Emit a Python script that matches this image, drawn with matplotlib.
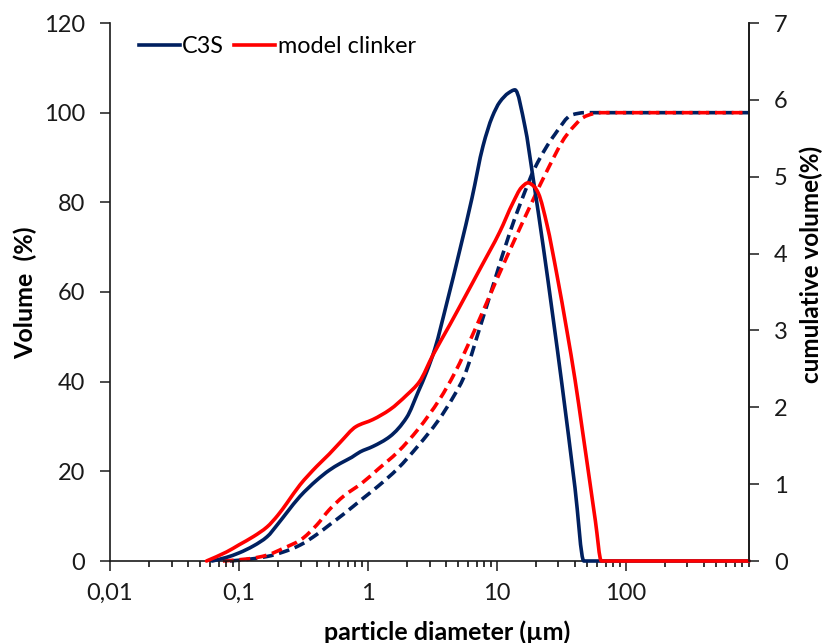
import matplotlib
matplotlib.use("Agg")
import matplotlib.pyplot as plt
import numpy as np
from matplotlib.lines import Line2D
from matplotlib.patches import PathPatch
from matplotlib.path import Path
from matplotlib.ticker import FixedLocator, LogLocator, NullFormatter

plt.rcParams["font.family"] = ["Lato", "DejaVu Sans"]

NAVY = "#002060"
RED = "#ff0000"
INK = "#1a1a1a"

# particle size distribution, density curves (read on the right axis, %)
c3s_x = [0.062, 0.08, 0.1, 0.13, 0.165, 0.2, 0.235, 0.297, 0.4, 0.5, 0.61,
         0.75, 0.87, 1.09, 1.48, 2.0, 2.45, 2.85, 3.3, 4.09, 5.16, 6.4,
         7.8, 9.2, 10.5, 12.3, 13.8, 16.5, 19.0, 22.9, 27.0, 31.9,
         40.3, 47.2, 60, 100, 200, 500, 900]
c3s_vol = [0.0, 0.047, 0.105, 0.198, 0.315, 0.48, 0.63, 0.84, 1.05, 1.18,
           1.27, 1.35, 1.42, 1.49, 1.62, 1.87, 2.20, 2.46, 2.76, 3.36, 4.05,
           4.72, 5.40, 5.78, 5.97, 6.09, 6.13, 5.65, 5.0, 4.08,
           3.21, 2.30, 0.95, 0.0, 0.0, 0.0, 0.0, 0.0, 0.0]

clinker_x = [0.056, 0.08, 0.1, 0.13, 0.165, 0.2, 0.235, 0.297, 0.4, 0.5,
             0.61, 0.81, 1.09, 1.48, 2.0, 2.5, 3.19, 4.3, 5.5, 7.5, 10.5,
             13.3, 15.5, 17.4, 19.5, 21.0, 24.4, 29.2, 35.0, 40.3, 46.0,
             52.6, 58.0, 64.5, 100, 200, 500, 900]
clinker_vol = [0.0, 0.117, 0.21, 0.32, 0.443, 0.595, 0.752, 0.99, 1.23,
               1.39, 1.545, 1.75, 1.84, 1.97, 2.16, 2.33, 2.68, 3.07, 3.40,
               3.82, 4.28, 4.66, 4.86, 4.92, 4.87, 4.78, 4.38, 3.72, 2.98,
               2.36, 1.70, 1.02, 0.52, 0.0, 0.0, 0.0, 0.0, 0.0]

# cumulative curves (read on the left axis, %)
c3s_cum_x = [0.085, 0.12, 0.165, 0.22, 0.3, 0.4, 0.5, 0.65, 0.9, 1.2, 1.7,
             2.45, 3.5, 4.7, 5.5, 7.2, 9.6, 12.5, 15.5, 19.7, 28.2, 38.0,
             48.0, 100, 900]
c3s_cum = [0.0, 0.4, 1.0, 2.0, 3.6, 5.9, 8.0, 10.5, 13.8, 16.7, 20.6, 25.7,
           31.3, 37.1, 40.8, 51.1, 62.6, 73.0, 80.4, 87.7, 95.2, 99.5, 100.0,
           100.0, 100.0]

clinker_cum_x = [0.075, 0.12, 0.165, 0.22, 0.3, 0.4, 0.5, 0.65, 0.9, 1.2,
                 1.7, 2.45, 3.6, 4.7, 6.75, 9.9, 14.5, 18.6, 25.0, 34.7, 49.5,
                 63.0, 100, 900]
clinker_cum = [0.0, 0.5, 1.3, 2.8, 4.7, 8.0, 11.4, 14.5, 17.4, 20.5, 24.3,
               29.4, 36.1, 41.9, 51.6, 62.6, 73.2, 79.9, 87.6, 95.0, 99.3,
               100.0, 100.0, 100.0]

x_ticks = [0.01, 0.1, 1, 10, 100]
x_tick_labels = ["0,01", "0,1", "1", "10", "100"]
left_ticks = [0, 20, 40, 60, 80, 100, 120]
right_ticks = [0, 1, 2, 3, 4, 5, 6, 7]


def smooth_path(x, y):
    """Smoothed line like Excel's: cubic Bezier segments through the points,
    built in log-x space with monotone tangents (no overshoot)."""
    lx = np.log10(np.asarray(x, float))
    y = np.asarray(y, float)
    h = np.diff(lx)
    d = np.diff(y) / h
    m = np.zeros(len(y))
    m[0], m[-1] = d[0], d[-1]
    for i in range(1, len(y) - 1):
        if d[i - 1] * d[i] > 0:
            w1 = 2 * h[i] + h[i - 1]
            w2 = h[i] + 2 * h[i - 1]
            m[i] = (w1 + w2) / (w1 / d[i - 1] + w2 / d[i])
    verts = [(lx[0], y[0])]
    codes = [Path.MOVETO]
    for i in range(len(y) - 1):
        verts += [(lx[i] + h[i] / 3, y[i] + m[i] * h[i] / 3),
                  (lx[i + 1] - h[i] / 3, y[i + 1] - m[i + 1] * h[i] / 3),
                  (lx[i + 1], y[i + 1])]
        codes += [Path.CURVE4] * 3
    verts = np.array(verts)
    verts[:, 0] = 10 ** verts[:, 0]
    return Path(verts, codes)


def draw_curve(a, x, y, color, dashed=False):
    a.add_patch(PathPatch(
        smooth_path(x, y), fill=False, edgecolor=color, lw=LW,
        linestyle=(0, DASH) if dashed else "-",
        capstyle="butt" if dashed else "round", joinstyle="round",
        clip_on=False,
    ))


LW = 2.6
DASH = (3.0, 1.6)

fig = plt.figure(figsize=(8.23, 6.43), dpi=100)
ax = fig.add_axes([110 / 823, 82 / 643, 639 / 823, 538 / 643])
ax2 = ax.twinx()

ax.set_xscale("log")
ax.set_xlim(0.01, 900)
ax.set_ylim(0, 120)
ax2.set_ylim(0, 7)

draw_curve(ax, c3s_cum_x, c3s_cum, NAVY, dashed=True)
draw_curve(ax, clinker_cum_x, clinker_cum, RED, dashed=True)
draw_curve(ax2, c3s_x, c3s_vol, NAVY)
draw_curve(ax2, clinker_x, clinker_vol, RED)

ax.xaxis.set_major_locator(FixedLocator(x_ticks))
ax.set_xticklabels(x_tick_labels)
ax.xaxis.set_minor_locator(LogLocator(base=10, subs=range(2, 10), numticks=20))
ax.xaxis.set_minor_formatter(NullFormatter())
ax.set_yticks(left_ticks)
ax2.set_yticks(right_ticks)

for a in (ax, ax2):
    a.spines["top"].set_visible(False)
    for side in ("left", "right", "bottom"):
        a.spines[side].set_linewidth(1.2)
        a.spines[side].set_color(INK)
ax2.spines["left"].set_visible(False)
ax2.spines["bottom"].set_visible(False)

ax.tick_params(axis="x", which="major", direction="out", length=7, width=1.1,
               pad=9, labelsize=17, colors=INK)
ax.tick_params(axis="x", which="minor", direction="out", length=4, width=1.1)
ax.tick_params(axis="y", direction="out", length=7, width=1.1, pad=11,
               labelsize=17, colors=INK)
ax2.tick_params(axis="y", direction="out", length=7, width=1.1, pad=11,
                labelsize=17, colors=INK)

ax.set_xlabel("particle diameter (µm)", fontsize=18, fontweight="bold",
              va="center")
ax.xaxis.set_label_coords(0.527, -0.132)
ax.set_ylabel("Volume  (%)", fontsize=18, fontweight="bold", va="center")
ax.yaxis.set_label_coords(-0.133, 0.498)
ax2.set_ylabel("cumulative volume(%)", fontsize=17.5, fontweight="bold",
               va="center", rotation=90)
ax2.yaxis.set_label_coords(1.097, 0.552)

handles = [Line2D([], [], color=NAVY, lw=LW), Line2D([], [], color=RED, lw=LW)]
ax2.legend(handles, ["C3S", "model clinker"], loc="upper left",
           bbox_to_anchor=(0.045, 0.975), ncol=2, frameon=False, fontsize=16.8,
           handlelength=1.75, handletextpad=0.1, columnspacing=0.45,
           borderpad=0, borderaxespad=0)

fig.savefig("out.png", dpi=100)
